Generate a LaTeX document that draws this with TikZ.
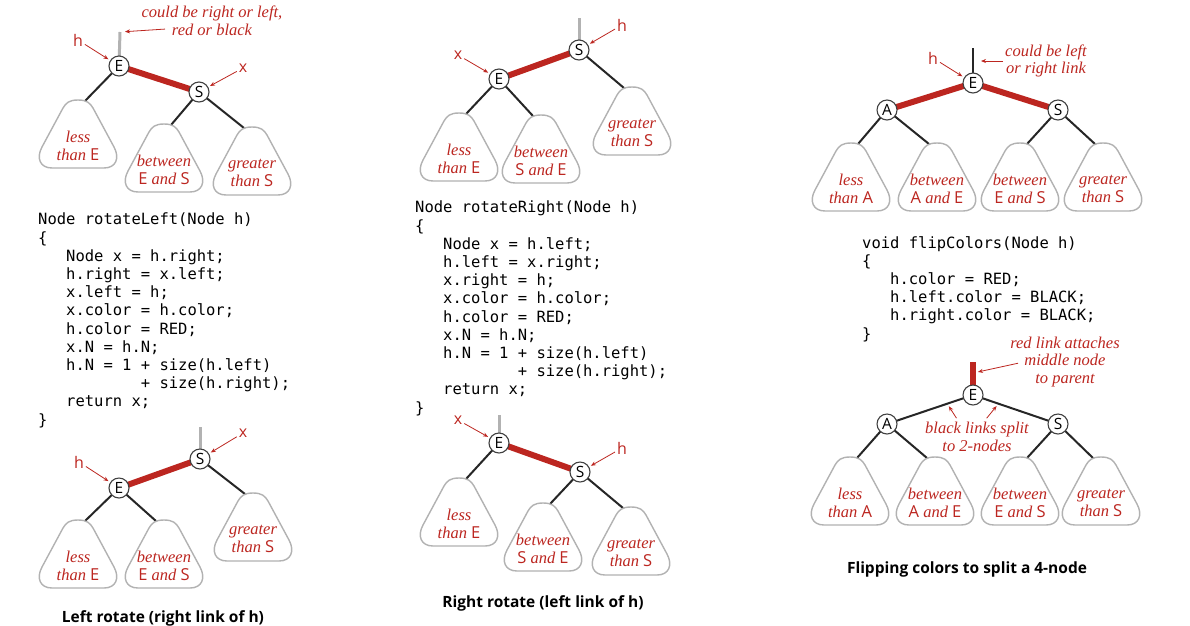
\documentclass[tikz,border=0pt]{standalone}
\usepackage{fontspec}
\setmainfont{Liberation Serif}
\setsansfont{Open Sans}
\setmonofont{DejaVu Sans Mono}
\definecolor{linkred}{RGB}{188,38,32}
\definecolor{blobgray}{RGB}{178,178,178}
\usetikzlibrary{arrows.meta, positioning, calc, backgrounds}
\newcommand{\keyref}[1]{{\upshape\sffamily #1}}

\tikzset{
  key/.style={circle, draw=black!75, line width=1.1pt, fill=white, inner sep=0pt,
    minimum size=20pt, font=\sffamily\fontsize{15.5}{15.5}\selectfont},
  blacklink/.style={line width=2pt, black!85},
  redlink/.style={line width=6pt, linkred},
  stublink/.style={line width=3pt, black!30},
  note/.style={text=linkred, font=\itshape\fontsize{16.5}{17.5}\selectfont, align=center, inner sep=0pt},
  tag/.style={text=linkred, font=\sffamily\fontsize{16}{16}\selectfont, inner sep=1pt},
  pointer/.style={-{Stealth[length=5pt,width=4pt]}, linkred, line width=0.8pt, shorten >=2pt, shorten <=1pt},
  blob/.style={draw=blobgray, line width=1.4pt, fill=white},
  code/.style={anchor=north west, align=left, inner sep=0pt, font=\ttfamily\fontsize{15.5}{18.2}\selectfont},
  caption/.style={font=\sffamily\bfseries\fontsize{15.5}{15.5}\selectfont},
  subtree/.pic={
    \draw[blob] (0,0) .. controls (9,0) and (12,3) .. (15,8) -- (36,47)
      .. controls (42,58) and (38,68) .. (26,68) -- (-26,68)
      .. controls (-38,68) and (-42,58) .. (-36,47) -- (-15,8)
      .. controls (-12,3) and (-9,0) .. (0,0) -- cycle;
    \coordinate (-r) at (7,1);
    \coordinate (-l) at (-8,1);
    \node[note] (-txt) at (0,46) {#1};
  }
}

\begin{document}
\begin{tikzpicture}[x=1pt, y=-1pt]
  \useasboundingbox (0,0) rectangle (1190,625);

  % Left rotate, before
  \coordinate (stubA) at (120,32);
  \node[key] (EA) at (119,66) {E};
  \node[key] (SA) at (199,92) {S};
  \pic (lessEA) at (78,100) {subtree={less\\than \keyref{E}}};
  \pic (betwA) at (164,124) {subtree={between\\\keyref{E} and \keyref{S}}};
  \pic (grtA) at (252,127) {subtree={greater\\than \keyref{S}}};
  \begin{scope}[on background layer]
    \draw[stublink] (stubA) -- (EA.center);
    \draw[redlink] (EA.center) -- (SA.center);
    \draw[blacklink] (EA.center) -- (lessEA-r);
    \draw[blacklink] (SA.center) -- (betwA-r);
    \draw[blacklink] (SA.center) -- (grtA-l);
  \end{scope}
  \node[note] (noteA) at (212,21) {could be right or left,\\red or black};
  \coordinate (noteAtail) at (166,29);
  \draw[pointer, shorten >=5pt] (noteAtail) -- (stubA);
  \node[tag] (hA) at (78,40) {h};
  \draw[pointer] (hA) -- (EA);
  \node[tag] (xA) at (243,68) {x};
  \draw[pointer] (xA) -- (SA);

  \node[code] (codeA) at (38,213) {Node rotateLeft(Node h)\\
\{\\
\phantom{xxx}Node x = h.right;\\
\phantom{xxx}h.right = x.left;\\
\phantom{xxx}x.left = h;\\
\phantom{xxx}x.color = h.color;\\
\phantom{xxx}h.color = RED;\\
\phantom{xxx}x.N = h.N;\\
\phantom{xxx}h.N = 1 + size(h.left)\\
\phantom{xxxxxxxxxxx}+ size(h.right);\\
\phantom{xxx}return x;\\
\}};

  % Left rotate, after
  \coordinate (stubC) at (200,427);
  \node[key] (SC) at (200,459) {S};
  \node[key] (EC) at (119,488) {E};
  \pic (lessEC) at (78,520) {subtree={less\\than \keyref{E}}};
  \pic (betwC) at (164,520) {subtree={between\\\keyref{E} and \keyref{S}}};
  \pic (grtC) at (253,493) {subtree={greater\\than \keyref{S}}};
  \begin{scope}[on background layer]
    \draw[stublink] (stubC) -- (SC.center);
    \draw[redlink] (EC.center) -- (SC.center);
    \draw[blacklink] (EC.center) -- (lessEC-r);
    \draw[blacklink] (EC.center) -- (betwC-l);
    \draw[blacklink] (SC.center) -- (grtC-l);
  \end{scope}
  \node[tag] (xC) at (243,433) {x};
  \draw[pointer] (xC) -- (SC);
  \node[tag] (hC) at (79,462) {h};
  \draw[pointer] (hC) -- (EC);
  \node[caption] (capA) at (163,618) {Left rotate (right link of h)};

  % Right rotate, before
  \coordinate (stubB) at (579,18);
  \node[key] (SB) at (579,50) {S};
  \node[key] (EB) at (499,79) {E};
  \pic (lessEB) at (459,113) {subtree={less\\than \keyref{E}}};
  \pic (betwB) at (541,115) {subtree={between\\\keyref{S} and \keyref{E}}};
  \pic (grtB) at (632,87) {subtree={greater\\than \keyref{S}}};
  \begin{scope}[on background layer]
    \draw[stublink] (stubB) -- (SB.center);
    \draw[redlink] (EB.center) -- (SB.center);
    \draw[blacklink] (EB.center) -- (lessEB-r);
    \draw[blacklink] (EB.center) -- (betwB-l);
    \draw[blacklink] (SB.center) -- (grtB-l);
  \end{scope}
  \node[tag] (hB) at (622,25) {h};
  \draw[pointer] (hB) -- (SB);
  \node[tag] (xB) at (458,55) {x};
  \draw[pointer] (xB) -- (EB);

  \node[code] (codeB) at (415,201) {Node rotateRight(Node h)\\
\{\\
\phantom{xxx}Node x = h.left;\\
\phantom{xxx}h.left = x.right;\\
\phantom{xxx}x.right = h;\\
\phantom{xxx}x.color = h.color;\\
\phantom{xxx}h.color = RED;\\
\phantom{xxx}x.N = h.N;\\
\phantom{xxx}h.N = 1 + size(h.left)\\
\phantom{xxxxxxxxxxx}+ size(h.right);\\
\phantom{xxx}return x;\\
\}};

  % Right rotate, after
  \coordinate (stubD) at (499,415);
  \node[key] (ED) at (499,443) {E};
  \node[key] (SD) at (580,472) {S};
  \pic (lessED) at (459,478) {subtree={less\\than \keyref{E}}};
  \pic (betwD) at (543,503) {subtree={between\\\keyref{S} and \keyref{E}}};
  \pic (grtD) at (631,507) {subtree={greater\\than \keyref{S}}};
  \begin{scope}[on background layer]
    \draw[stublink] (stubD) -- (ED.center);
    \draw[redlink] (ED.center) -- (SD.center);
    \draw[blacklink] (ED.center) -- (lessED-r);
    \draw[blacklink] (SD.center) -- (betwD-r);
    \draw[blacklink] (SD.center) -- (grtD-l);
  \end{scope}
  \node[tag] (xD) at (458,420) {x};
  \draw[pointer] (xD) -- (ED);
  \node[tag] (hD) at (622,448) {h};
  \draw[pointer] (hD) -- (SD);
  \node[caption] (capB) at (543,603) {Right rotate (left link of h)};

  % Flip colors, before
  \coordinate (stubE) at (973,48);
  \coordinate (stubEmid) at (973,61);
  \node[key] (EE) at (973,83) {E};
  \node[key] (AE) at (887,110) {A};
  \node[key] (SE) at (1058,110) {S};
  \pic (lessAE) at (851,143) {subtree={less\\than \keyref{A}}};
  \pic (betwAE) at (937,143) {subtree={between\\\keyref{A} and \keyref{E}}};
  \pic (betwES) at (1020,143) {subtree={between\\\keyref{E} and \keyref{S}}};
  \pic (grtSE) at (1103,143) {subtree={greater\\than \keyref{S}}};
  \begin{scope}[on background layer]
    \draw[blacklink] (stubE) -- (EE.center);
    \draw[redlink] (AE.center) -- (EE.center) -- (SE.center);
    \draw[blacklink] (AE.center) -- (lessAE-r);
    \draw[blacklink] (AE.center) -- (betwAE-l);
    \draw[blacklink] (SE.center) -- (betwES-r);
    \draw[blacklink] (SE.center) -- (grtSE-l);
  \end{scope}
  \node[tag] (hE) at (933,58) {h};
  \draw[pointer] (hE) -- (EE);
  \node[note, anchor=west] (noteE) at (1005,61) {could be left\\or right link};
  \draw[pointer, shorten >=8pt, shorten <=2pt] (noteE.west) -- (stubEmid);

  \node[code] (codeE) at (862,236) {void flipColors(Node h)\\
\{\\
\phantom{xxx}h.color = RED;\\
\phantom{xxx}h.left.color = BLACK;\\
\phantom{xxx}h.right.color = BLACK;\\
\}};

  % Flip colors, after
  \coordinate (stubF) at (973,362);
  \coordinate (stubFmid) at (973,373);
  \node[key] (EF) at (973,395) {E};
  \node[key] (AF) at (887,424) {A};
  \node[key] (SF) at (1058,424) {S};
  \pic (lessAF) at (850,457) {subtree={less\\than \keyref{A}}};
  \pic (betwAF) at (935,457) {subtree={between\\\keyref{A} and \keyref{E}}};
  \pic (betwSF) at (1020,457) {subtree={between\\\keyref{E} and \keyref{S}}};
  \pic (grtSF) at (1101,457) {subtree={greater\\than \keyref{S}}};
  \begin{scope}[on background layer]
    \draw[redlink] (stubF) -- (EF.center);
    \draw[blacklink] (AF.center) -- (EF.center) -- (SF.center);
    \draw[blacklink] (AF.center) -- (lessAF-r);
    \draw[blacklink] (AF.center) -- (betwAF-l);
    \draw[blacklink] (SF.center) -- (betwSF-r);
    \draw[blacklink] (SF.center) -- (grtSF-l);
  \end{scope}
  \node[note] (noteF) at (1065,362) {red link attaches\\middle node\\to parent};
  \coordinate (noteFtail) at (1019,363);
  \draw[pointer, shorten >=5pt] (noteFtail) -- (stubFmid);
  \node[note] (noteG) at (977,437) {black links split\\to 2-nodes};
  \coordinate (noteGtl) at (957,419);
  \coordinate (noteGtr) at (986,419);
  \coordinate (linkEA) at ($(EF)!0.3!(AF)$);
  \coordinate (linkES) at ($(EF)!0.3!(SF)$);
  \draw[pointer, shorten >=3pt] (noteGtl) -- (linkEA);
  \draw[pointer, shorten >=3pt] (noteGtr) -- (linkES);
  \node[caption] (capE) at (967,569) {Flipping colors to split a 4-node};
\end{tikzpicture}
\end{document}
